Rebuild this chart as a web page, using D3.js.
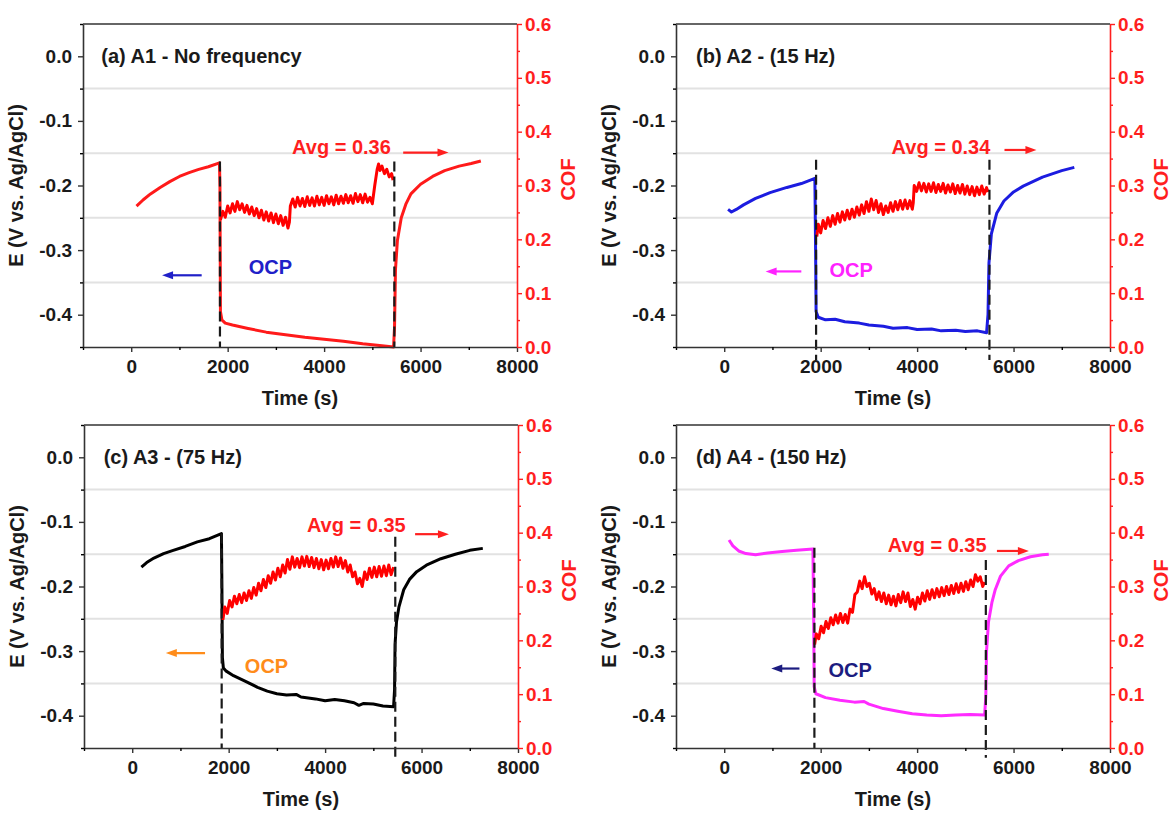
<!DOCTYPE html>
<html>
<head>
<meta charset="utf-8">
<script src="https://cdn.jsdelivr.net/npm/d3@7"></script>
<style>
body { margin: 0; background: #fff; }
svg text { font-family: "Liberation Sans", Arial, sans-serif; font-weight: bold; }
</style>
</head>
<body>
<div id="chart"></div>
<script>
// OCP curves, [time (s), E (V vs Ag/AgCl)]
var ocpA = [[110,-0.232],[250,-0.222],[400,-0.213],[600,-0.203],[800,-0.194],[1000,-0.186],[1200,-0.180],[1400,-0.175],[1600,-0.171],[1830,-0.165],[1840,-0.200],[1850,-0.395],[1880,-0.408],[1950,-0.413],[2100,-0.416],[2400,-0.421],[2800,-0.427],[3200,-0.431],[3600,-0.435],[4000,-0.438],[4400,-0.441],[4800,-0.445],[5200,-0.448],[5440,-0.450],[5460,-0.420],[5480,-0.330],[5520,-0.285],[5600,-0.250],[5700,-0.228],[5800,-0.213],[6000,-0.198],[6250,-0.186],[6500,-0.177],[6800,-0.170],[7050,-0.166],[7250,-0.162]];
var ocpB = [[80,-0.237],[150,-0.241],[250,-0.237],[400,-0.230],[650,-0.220],[950,-0.211],[1300,-0.203],[1600,-0.197],[1880,-0.189],[1895,-0.300],[1905,-0.395],[1950,-0.404],[2100,-0.408],[2300,-0.407],[2500,-0.411],[2800,-0.413],[3000,-0.416],[3300,-0.418],[3500,-0.421],[3800,-0.420],[4000,-0.423],[4300,-0.422],[4500,-0.425],[4800,-0.424],[5000,-0.426],[5250,-0.425],[5440,-0.428],[5470,-0.400],[5490,-0.320],[5540,-0.275],[5650,-0.243],[5800,-0.224],[6000,-0.210],[6200,-0.201],[6600,-0.187],[7000,-0.177],[7260,-0.172]];
var ocpC = [[190,-0.170],[300,-0.163],[450,-0.156],[650,-0.149],[850,-0.144],[1100,-0.138],[1350,-0.131],[1600,-0.126],[1850,-0.118],[1860,-0.200],[1870,-0.310],[1890,-0.326],[1950,-0.331],[2100,-0.338],[2350,-0.347],[2600,-0.356],[2800,-0.362],[3000,-0.366],[3200,-0.368],[3400,-0.367],[3500,-0.371],[3800,-0.374],[4000,-0.377],[4200,-0.375],[4400,-0.377],[4600,-0.380],[4700,-0.384],[4800,-0.381],[5000,-0.382],[5200,-0.385],[5420,-0.386],[5440,-0.360],[5450,-0.290],[5480,-0.255],[5530,-0.232],[5630,-0.205],[5750,-0.189],[5900,-0.177],[6100,-0.167],[6400,-0.157],[6700,-0.150],[7000,-0.144],[7270,-0.141]];
var ocpD = [[100,-0.128],[180,-0.137],[300,-0.145],[450,-0.149],[650,-0.151],[900,-0.148],[1200,-0.146],[1500,-0.144],[1840,-0.142],[1855,-0.250],[1865,-0.355],[1900,-0.366],[2100,-0.372],[2400,-0.376],[2700,-0.379],[2900,-0.378],[3000,-0.382],[3300,-0.389],[3600,-0.393],[3900,-0.397],[4200,-0.399],[4500,-0.400],[4800,-0.399],[5100,-0.398],[5400,-0.399],[5425,-0.370],[5440,-0.300],[5480,-0.255],[5550,-0.225],[5620,-0.205],[5730,-0.184],[5900,-0.168],[6100,-0.160],[6350,-0.154],[6600,-0.151],[6730,-0.150]];

// COF traces, [time (s), COF]
var cofA = [[1850,0.236],[1900,0.252],[1950,0.241],[2000,0.262],[2050,0.249],[2100,0.266],[2150,0.252],[2200,0.270],[2250,0.255],[2300,0.266],[2350,0.250],[2400,0.263],[2450,0.247],[2500,0.260],[2550,0.244],[2600,0.257],[2650,0.240],[2700,0.254],[2750,0.236],[2800,0.251],[2850,0.234],[2900,0.249],[2950,0.231],[3000,0.247],[3050,0.229],[3100,0.244],[3150,0.226],[3200,0.241],[3250,0.221],[3280,0.232],[3300,0.262],[3350,0.275],[3400,0.260],[3450,0.278],[3500,0.262],[3550,0.276],[3600,0.261],[3650,0.279],[3700,0.263],[3750,0.277],[3800,0.262],[3850,0.280],[3900,0.264],[3950,0.278],[4000,0.263],[4050,0.281],[4100,0.266],[4150,0.279],[4200,0.264],[4250,0.282],[4300,0.266],[4350,0.280],[4400,0.267],[4450,0.283],[4500,0.268],[4550,0.281],[4600,0.267],[4650,0.285],[4700,0.270],[4750,0.283],[4800,0.268],[4850,0.284],[4900,0.269],[4950,0.278],[5000,0.266],[5050,0.300],[5100,0.330],[5130,0.340],[5160,0.328],[5200,0.336],[5250,0.322],[5300,0.330],[5350,0.316],[5400,0.322],[5430,0.310]];
var cofB = [[1920,0.205],[1950,0.228],[2000,0.212],[2050,0.235],[2100,0.220],[2150,0.240],[2200,0.224],[2250,0.244],[2300,0.228],[2350,0.248],[2400,0.232],[2450,0.251],[2500,0.236],[2550,0.254],[2600,0.238],[2650,0.256],[2700,0.241],[2750,0.260],[2800,0.245],[2850,0.264],[2900,0.248],[2950,0.270],[3000,0.252],[3050,0.275],[3100,0.255],[3150,0.272],[3200,0.250],[3250,0.266],[3300,0.246],[3350,0.262],[3400,0.250],[3450,0.268],[3500,0.252],[3550,0.270],[3600,0.255],[3650,0.272],[3700,0.256],[3750,0.273],[3800,0.257],[3850,0.272],[3900,0.256],[3920,0.268],[3940,0.300],[3990,0.289],[4040,0.305],[4090,0.290],[4140,0.304],[4190,0.288],[4240,0.303],[4290,0.289],[4340,0.305],[4390,0.287],[4440,0.302],[4490,0.289],[4540,0.304],[4590,0.286],[4640,0.301],[4690,0.288],[4740,0.303],[4790,0.285],[4840,0.300],[4890,0.286],[4940,0.302],[4990,0.284],[5040,0.299],[5090,0.283],[5140,0.298],[5190,0.281],[5240,0.297],[5290,0.283],[5340,0.299],[5390,0.284],[5440,0.296],[5470,0.288]];
var cofC = [[1880,0.238],[1920,0.262],[1970,0.250],[2020,0.274],[2070,0.262],[2120,0.282],[2170,0.268],[2220,0.285],[2270,0.270],[2320,0.288],[2370,0.274],[2420,0.292],[2470,0.278],[2520,0.298],[2570,0.284],[2620,0.306],[2670,0.292],[2720,0.313],[2770,0.298],[2820,0.320],[2870,0.306],[2920,0.327],[2970,0.312],[3020,0.334],[3070,0.318],[3120,0.340],[3170,0.325],[3220,0.350],[3270,0.332],[3320,0.355],[3370,0.336],[3420,0.352],[3470,0.335],[3520,0.355],[3570,0.338],[3620,0.356],[3670,0.337],[3720,0.354],[3770,0.335],[3820,0.352],[3870,0.333],[3920,0.350],[3970,0.331],[4020,0.349],[4070,0.333],[4120,0.352],[4170,0.336],[4220,0.355],[4270,0.337],[4320,0.353],[4370,0.334],[4420,0.348],[4470,0.327],[4520,0.340],[4570,0.318],[4620,0.327],[4670,0.305],[4720,0.315],[4770,0.300],[4820,0.327],[4870,0.313],[4920,0.334],[4970,0.317],[5020,0.336],[5070,0.318],[5120,0.337],[5170,0.319],[5220,0.338],[5270,0.320],[5320,0.340],[5370,0.322],[5420,0.336]];
var cofD = [[1875,0.192],[1910,0.212],[1960,0.203],[2010,0.226],[2060,0.214],[2110,0.235],[2160,0.222],[2210,0.242],[2260,0.229],[2310,0.247],[2360,0.232],[2410,0.250],[2460,0.233],[2510,0.248],[2560,0.232],[2610,0.258],[2660,0.252],[2710,0.285],[2760,0.290],[2810,0.310],[2860,0.296],[2910,0.318],[2960,0.300],[3010,0.306],[3060,0.286],[3110,0.296],[3160,0.276],[3210,0.290],[3260,0.272],[3310,0.288],[3360,0.268],[3410,0.284],[3460,0.266],[3510,0.282],[3560,0.264],[3610,0.285],[3660,0.270],[3710,0.290],[3760,0.272],[3810,0.288],[3860,0.263],[3910,0.276],[3960,0.258],[4010,0.280],[4060,0.268],[4110,0.288],[4160,0.273],[4210,0.292],[4260,0.276],[4310,0.294],[4360,0.279],[4410,0.296],[4460,0.281],[4510,0.298],[4560,0.283],[4610,0.300],[4660,0.285],[4710,0.302],[4760,0.287],[4810,0.305],[4860,0.289],[4910,0.306],[4960,0.291],[5010,0.309],[5060,0.294],[5110,0.312],[5160,0.300],[5210,0.322],[5260,0.310],[5310,0.318],[5360,0.300],[5400,0.308]];

// dashed markers: [time, top E, bottom E]
var dashA = [[1840,-0.163,-0.45],[5456,-0.163,-0.45]];
var dashB = [[1905,-0.160,-0.47],[5500,-0.160,-0.47]];
var dashC = [[1855,-0.118,-0.45],[5455,-0.123,-0.465]];
var dashD = [[1870,-0.140,-0.45],[5425,-0.159,-0.465]];

// axis ticks
var timeTicks = [0, 2000, 4000, 6000, 8000];
var timeMinor = [-1000, 1000, 3000, 5000, 7000];
var eTicks = [0.0, -0.1, -0.2, -0.3, -0.4];
var eMinor = [0.05, -0.05, -0.15, -0.25, -0.35, -0.45];
var cofTicks = [0.0, 0.1, 0.2, 0.3, 0.4, 0.5, 0.6];
var cofMinor = [0.05, 0.15, 0.25, 0.35, 0.45, 0.55];
var gridVals = [-0.05, -0.15, -0.25, -0.35];

// labels
var titles = ["(a) A1 - No frequency", "(b) A2 - (15 Hz)", "(c) A3 - (75 Hz)", "(d) A4 - (150 Hz)"];
var avgLabels = ["Avg = 0.36", "Avg = 0.34", "Avg = 0.35", "Avg = 0.35"];

var pw = 434, ph = 323;

var panels = [
  {left: 83, top: 24, title: titles[0], avg: avgLabels[0], ocp: ocpA, cof: cofA, dash: dashA,
   ocpColor: "#ff1a1a", tagColor: "#2020c8",
   titlePos: [-620, 0.0], avgPos: [3336, -0.140], avgArrow: [5640, 6580, -0.149],
   tagPos: [2437, -0.326], tagArrow: [1461, 640, -0.339]},
  {left: 676, top: 24, title: titles[1], avg: avgLabels[1], ocp: ocpB, cof: cofB, dash: dashB,
   ocpColor: "#1c1ce0", tagColor: "#ff22ff",
   titlePos: [-585, 0.0], avgPos: [3471, -0.140], avgArrow: [5812, 6474, -0.145],
   tagPos: [2184, -0.331], tagArrow: [1599, 858, -0.333]},
  {left: 84, top: 425, title: titles[2], avg: avgLabels[2], ocp: ocpC, cof: cofC, dash: dashC,
   ocpColor: "#000000", tagColor: "#ff8c1a",
   titlePos: [-593, 0.0], avgPos: [3622, -0.105], avgArrow: [5866, 6568, -0.119],
   tagPos: [2336, -0.323], tagArrow: [1510, 697, -0.303]},
  {left: 676, top: 425, title: titles[3], avg: avgLabels[3], ocp: ocpD, cof: cofD, dash: dashD,
   ocpColor: "#ff2bff", tagColor: "#1c1c80",
   titlePos: [-585, 0.0], avgPos: [3393, -0.136], avgArrow: [5655, 6318, -0.145],
   tagPos: [2161, -0.329], tagArrow: [1560, 975, -0.327]}
];

var svg = d3.select("#chart").append("svg")
    .attr("width", 1173)
    .attr("height", 814);

var red = "#ff1f1f";

function arrow(g, x, y, x0, x1, e, color) {
  var a = x(x0), b = x(x1), yy = y(e);
  var dir = b > a ? 1 : -1;
  g.append("line")
    .attr("x1", a).attr("x2", b - dir * 8)
    .attr("y1", yy).attr("y2", yy)
    .style("stroke", color).style("stroke-width", 2.2);
  g.append("path")
    .attr("d", "M" + b + "," + yy + "L" + (b - dir * 11) + "," + (yy - 4) + "L" + (b - dir * 11) + "," + (yy + 4) + "Z")
    .style("fill", color);
}

panels.forEach(function(p) {
  var x = d3.scaleLinear().domain([-1000, 8000]).range([0, pw]);
  var y = d3.scaleLinear().domain([-0.45, 0.05]).range([ph, 0]);
  var yc = d3.scaleLinear().domain([0, 0.6]).range([ph, 0]);

  var g = svg.append("g")
      .attr("transform", "translate(" + p.left + "," + p.top + ")");

  // light grid lines
  g.selectAll(".grid")
    .data(gridVals)
    .enter().append("line")
      .attr("x1", 0).attr("x2", pw)
      .attr("y1", function(d) { return y(d); })
      .attr("y2", function(d) { return y(d); })
      .style("stroke", "#e2e2e2")
      .style("stroke-width", 2);

  var lineE = d3.line()
      .x(function(d) { return x(d[0]); })
      .y(function(d) { return y(d[1]); });
  var lineC = d3.line()
      .x(function(d) { return x(d[0]); })
      .y(function(d) { return yc(d[1]); });

  g.append("path")
    .datum(p.ocp)
    .attr("d", lineE)
    .style("fill", "none")
    .style("stroke", p.ocpColor)
    .style("stroke-width", 3)
    .style("stroke-linejoin", "round");

  g.append("path")
    .datum(p.cof)
    .attr("d", lineC)
    .style("fill", "none")
    .style("stroke", "#ff0000")
    .style("stroke-width", 3)
    .style("stroke-linejoin", "round");

  // dashed guides
  g.selectAll(".dash")
    .data(p.dash)
    .enter().append("line")
      .attr("x1", function(d) { return x(d[0]); })
      .attr("x2", function(d) { return x(d[0]); })
      .attr("y1", function(d) { return y(d[1]); })
      .attr("y2", function(d) { return y(d[2]); })
      .style("stroke", "#1a1a1a")
      .style("stroke-width", 2.2)
      .style("stroke-dasharray", "10,5");

  // axes
  var fmt = function(d) { return d.toFixed(1); };

  var xAx = g.append("g").attr("transform", "translate(0," + ph + ")")
      .call(d3.axisBottom(x).tickValues(timeTicks).tickFormat(function(d) { return String(d); })
        .tickSize(5).tickSizeOuter(0).tickPadding(8));
  g.append("g").attr("transform", "translate(0," + ph + ")")
      .call(d3.axisBottom(x).tickValues(timeMinor).tickSize(3).tickFormat("")).select(".domain").remove();
  var yAx = g.append("g")
      .call(d3.axisLeft(y).tickValues(eTicks).tickFormat(fmt).tickSize(5).tickSizeOuter(0).tickPadding(6));
  g.append("g")
      .call(d3.axisLeft(y).tickValues(eMinor).tickSize(3).tickFormat("")).select(".domain").remove();
  var rAx = g.append("g").attr("transform", "translate(" + pw + ",0)")
      .call(d3.axisRight(yc).tickValues(cofTicks).tickFormat(fmt).tickSize(5).tickSizeOuter(0).tickPadding(3));
  var rMin = g.append("g").attr("transform", "translate(" + pw + ",0)")
      .call(d3.axisRight(yc).tickValues(cofMinor).tickSize(3).tickFormat(""));
  rMin.select(".domain").remove();

  g.append("line")
    .attr("x1", 0).attr("x2", pw).attr("y1", 0).attr("y2", 0)
    .style("stroke", "#333").style("stroke-width", 1.6);

  [xAx, yAx].forEach(function(a) {
    a.select(".domain").style("stroke", "#333").style("stroke-width", 1.6);
    a.selectAll(".tick line").style("stroke", "#333").style("stroke-width", 1.4);
    a.selectAll("text").style("font-size", "19px").style("fill", "#1a1a1a");
  });
  rAx.select(".domain").style("stroke", red).style("stroke-width", 1.6);
  rAx.selectAll(".tick line").style("stroke", red).style("stroke-width", 1.4);
  rAx.selectAll("text").style("font-size", "19px").style("fill", red);
  rMin.selectAll(".tick line").style("stroke", red).style("stroke-width", 1.2);
  g.selectAll(".tick line").style("stroke-width", 1.4);

  // axis titles
  g.append("text")
    .attr("transform", "translate(-67," + ph / 2 + ") rotate(-90)")
    .attr("text-anchor", "middle")
    .attr("dominant-baseline", "central")
    .style("font-size", "20px").style("fill", "#1a1a1a")
    .text("E (V vs. Ag/AgCl)");
  g.append("text")
    .attr("transform", "translate(" + (pw + 51) + "," + (ph / 2 - 6) + ") rotate(-90)")
    .attr("text-anchor", "middle")
    .attr("dominant-baseline", "central")
    .style("font-size", "20px").style("fill", red)
    .text("COF");
  g.append("text")
    .attr("x", pw / 2)
    .attr("y", ph + 51)
    .attr("text-anchor", "middle")
    .attr("dominant-baseline", "central")
    .style("font-size", "20px").style("fill", "#1a1a1a")
    .text("Time (s)");

  // annotations
  g.append("text")
    .attr("x", x(p.titlePos[0])).attr("y", y(p.titlePos[1]))
    .attr("dominant-baseline", "central")
    .style("font-size", "20px").style("fill", "#1a1a1a")
    .text(p.title);
  g.append("text")
    .attr("x", x(p.avgPos[0])).attr("y", y(p.avgPos[1]))
    .attr("dominant-baseline", "central")
    .style("font-size", "20px").style("fill", red)
    .text(p.avg);
  g.append("text")
    .attr("x", x(p.tagPos[0])).attr("y", y(p.tagPos[1]))
    .attr("dominant-baseline", "central")
    .style("font-size", "20px").style("fill", p.tagColor)
    .text("OCP");

  arrow(g, x, y, p.avgArrow[0], p.avgArrow[1], p.avgArrow[2], red);
  arrow(g, x, y, p.tagArrow[0], p.tagArrow[1], p.tagArrow[2], p.tagColor);
});
</script>
</body>
</html>
